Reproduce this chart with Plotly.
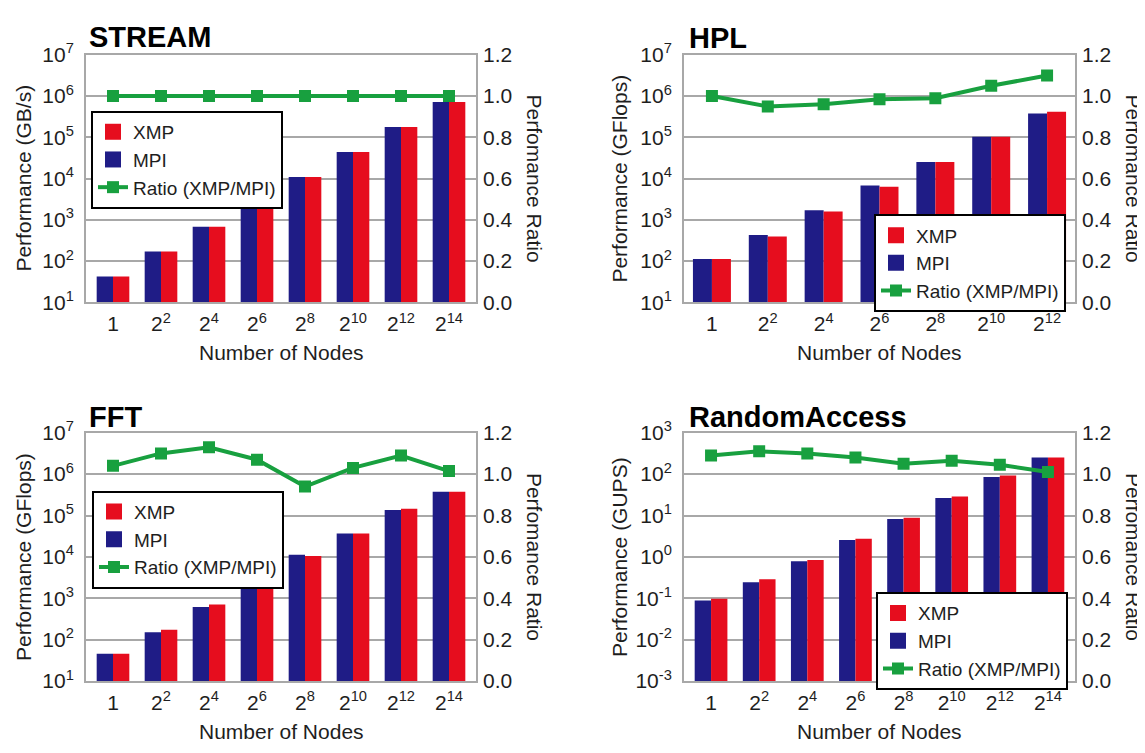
import plotly.graph_objects as go

# ---------------- data ----------------
categories8 = ['1', '2<sup>2</sup>', '2<sup>4</sup>', '2<sup>6</sup>', '2<sup>8</sup>',
               '2<sup>10</sup>', '2<sup>12</sup>', '2<sup>14</sup>']
categories7 = categories8[:7]

stream_mpi = [42, 170, 680, 2750, 10900, 44000, 178000, 720000]
stream_xmp = [42, 170, 680, 2750, 10900, 44000, 178000, 720000]
stream_ratio = [1.0, 1.0, 1.0, 1.0, 1.0, 1.0, 1.0, 1.0]

hpl_mpi = [112, 425, 1700, 6750, 25200, 104000, 380000]
hpl_xmp = [112, 395, 1590, 6300, 25200, 104000, 417000]
hpl_ratio = [1.00, 0.95, 0.96, 0.985, 0.99, 1.05, 1.10]

fft_mpi = [46, 151, 615, 2800, 11300, 37000, 136000, 378000]
fft_xmp = [46, 175, 708, 3080, 10500, 37000, 146000, 378000]
fft_ratio = [1.04, 1.10, 1.13, 1.07, 0.94, 1.03, 1.09, 1.015]

ra_mpi = [0.089, 0.245, 0.79, 2.56, 8.2, 26.7, 85, 253]
ra_xmp = [0.098, 0.288, 0.845, 2.75, 8.8, 29, 93, 253]
ra_ratio = [1.09, 1.11, 1.10, 1.08, 1.05, 1.065, 1.045, 1.01]

stream_decades = [1, 2, 3, 4, 5, 6, 7]
flops_decades = [1, 2, 3, 4, 5, 6, 7]
gups_decades = [-3, -2, -1, 0, 1, 2, 3]

# ---------------- style ----------------
PAGE_W, PAGE_H = 1145, 753
OFF = 8  # default page body margin
W, H = PAGE_W - OFF, PAGE_H - OFF
FONT = "Liberation Sans, Arial, Helvetica, sans-serif"
RED = "#e60d1e"
NAVY = "#1f1c86"
GREEN = "#18a03f"
GRID = "#a8a8a8"
TXT = "#1e1e1e"


def px(v):
    return (v - OFF) / W


def py(v):
    return 1 - (v - OFF) / H


panels = [
    dict(title="STREAM", ylabel="Performance (GB/s)", cats=categories8,
         mpi=stream_mpi, xmp=stream_xmp, ratio=stream_ratio, dec=stream_decades,
         x0=86, x1=476, y0=42, y1=298, tx=87, ty=24, lx=24, rx=534, xty=350,
         legx=91, legy=100),
    dict(title="HPL", ylabel="Performance (GFlops)", cats=categories7,
         mpi=hpl_mpi, xmp=hpl_xmp, ratio=hpl_ratio, dec=flops_decades,
         x0=684, x1=1075, y0=42, y1=298, tx=687, ty=25, lx=620, rx=1133, xty=350,
         legx=874, legy=207),
    dict(title="FFT", ylabel="Performance (GFlops)", cats=categories8,
         mpi=fft_mpi, xmp=fft_xmp, ratio=fft_ratio, dec=flops_decades,
         x0=86, x1=476, y0=433, y1=690, tx=87, ty=417, lx=24, rx=534, xty=742,
         legx=92, legy=493),
    dict(title="RandomAccess", ylabel="Performance (GUPS)", cats=categories8,
         mpi=ra_mpi, xmp=ra_xmp, ratio=ra_ratio, dec=gups_decades,
         x0=684, x1=1075, y0=433, y1=690, tx=687, ty=417, lx=620, rx=1133, xty=742,
         legx=876, legy=598),
]

fig = go.Figure()
layout = dict(
    width=W, height=H, autosize=False,
    margin=dict(l=0, r=0, t=0, b=0),
    paper_bgcolor="white", plot_bgcolor="white",
    font=dict(family=FONT, color=TXT, size=21),
    barmode="group", bargap=0.32, bargroupgap=0,
    annotations=[],
)

for i, p in enumerate(panels, start=1):
    xa = "x" if i == 1 else f"x{i}"
    ya = "y" if i == 1 else f"y{i}"
    yr = f"y{i + 4}"
    leg = "legend" if i == 1 else f"legend{i}"

    fig.add_trace(go.Bar(x=p["cats"], y=p["mpi"], name="MPI", marker=dict(color=NAVY, line=dict(width=0)),
                         xaxis=xa, yaxis=ya, showlegend=False))
    fig.add_trace(go.Bar(x=p["cats"], y=p["xmp"], name="XMP", marker=dict(color=RED, line=dict(width=0)),
                         xaxis=xa, yaxis=ya, showlegend=False))
    # legend entries (large square swatches)
    fig.add_trace(go.Scatter(x=[None], y=[None], mode="markers", name="XMP",
                             marker=dict(symbol="square", size=16, color=RED),
                             xaxis=xa, yaxis=ya, legend=leg, legendrank=1))
    fig.add_trace(go.Scatter(x=[None], y=[None], mode="markers", name="MPI",
                             marker=dict(symbol="square", size=16, color=NAVY),
                             xaxis=xa, yaxis=ya, legend=leg, legendrank=2))
    fig.add_trace(go.Scatter(x=p["cats"], y=p["ratio"], mode="lines+markers", name="Ratio (XMP/MPI)",
                             line=dict(color=GREEN, width=4),
                             marker=dict(symbol="square", size=12, color=GREEN),
                             xaxis=xa, yaxis=yr, legend=leg, legendrank=3))

    xdom = [px(p["x0"]), px(p["x1"])]
    ydom = [py(p["y1"]), py(p["y0"])]
    dec = p["dec"]
    layout["xaxis" if i == 1 else f"xaxis{i}"] = dict(
        domain=xdom, anchor=ya, type="category", showline=True, linecolor=GRID, linewidth=2,
        mirror=True, showgrid=False, ticks="", tickfont=dict(size=21, color=TXT),
        ticklabelstandoff=2, fixedrange=True,
    )
    layout["yaxis" if i == 1 else f"yaxis{i}"] = dict(
        domain=ydom, anchor=xa, type="log", range=[dec[0], dec[-1]],
        tickmode="array", tickvals=[10.0 ** k for k in dec],
        ticktext=[f"10<sup>{k}</sup>" for k in dec],
        showgrid=True, gridcolor=GRID, gridwidth=2, zeroline=False,
        showline=True, linecolor=GRID, linewidth=2, mirror=True, ticks="",
        tickfont=dict(size=21, color=TXT), ticklabelstandoff=6,
    )
    layout[f"yaxis{i + 4}"] = dict(
        overlaying=ya, side="right", anchor=xa, range=[0, 1.2],
        tickmode="linear", tick0=0, dtick=0.2, tickformat=".1f",
        showgrid=False, zeroline=False, showline=False, ticks="",
        tickfont=dict(size=21, color=TXT), ticklabelstandoff=6,
    )
    layout[leg] = dict(
        x=px(p["legx"]), y=py(p["legy"]), xanchor="left", yanchor="top",
        bgcolor="white", bordercolor="black", borderwidth=2,
        font=dict(size=19, color=TXT), itemwidth=30, traceorder="normal",
        tracegroupgap=0,
    )
    cy = (p["y0"] + p["y1"]) / 2
    cx = (p["x0"] + p["x1"]) / 2
    layout["annotations"] += [
        dict(text=f"<b>{p['title']}</b>", x=px(p["tx"]), y=py(p["ty"]), xref="paper", yref="paper",
             xanchor="left", yanchor="middle", showarrow=False, font=dict(size=29, color="black")),
        dict(text=p["ylabel"], x=px(p["lx"]), y=py(cy), xref="paper", yref="paper",
             xanchor="center", yanchor="middle", textangle=-90, showarrow=False,
             font=dict(size=21, color=TXT)),
        dict(text="Perfomance Ratio", x=px(p["rx"]), y=py(cy), xref="paper", yref="paper",
             xanchor="center", yanchor="middle", textangle=90, showarrow=False,
             font=dict(size=21, color=TXT)),
        dict(text="Number of Nodes", x=px(cx), y=py(p["xty"]), xref="paper", yref="paper",
             xanchor="center", yanchor="middle", showarrow=False, font=dict(size=21, color=TXT)),
    ]

fig.update_layout(**layout)
fig.write_html("out.html")
